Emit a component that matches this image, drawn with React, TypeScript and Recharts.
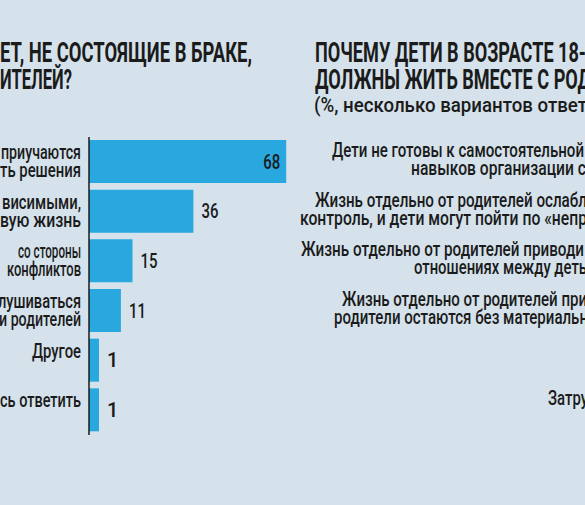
import React from 'react';
import { BarChart, Bar, XAxis, YAxis, LabelList } from 'recharts';

// ---------- data ----------
const leftCategories = [
  'Дети не приучаются самостоятельно принимать решения',
  'Дети остаются зависимыми, не начинают взрослую жизнь',
  'Нет контроля со стороны родителей, больше конфликтов',
  'Дети перестают прислушиваться к мнению родителей',
  'Другое',
  'Затрудняюсь ответить',
];
const leftLabelLines: string[][] = [
  ['приучаются', 'ть решения'],
  ['висимыми,', 'вую жизнь'],
  ['со стороны', 'конфликтов'],
  ['лушиваться', 'и родителей'],
  ['Другое'],
  ['сь ответить'],
];
const leftValues = [68, 36, 15, 11, 1, 1];

const rightCategories = [
  'Дети не готовы к самостоятельной жизни',
  'Жизнь отдельно от родителей ослабляет контроль',
  'Жизнь отдельно от родителей приводит к проблемам',
  'Жизнь отдельно от родителей приводит к тому, что родители остаются без помощи',
  'Другое',
  'Затрудняюсь ответить',
];
const rightLabelLines: string[][] = [
  ['Дети не готовы к самостоятельной', 'навыков организации с'],
  ['Жизнь отдельно от родителей ослабл', 'контроль, и дети могут пойти по «непр'],
  ['Жизнь отдельно от родителей приводи', 'отношениях между деть'],
  ['Жизнь отдельно от родителей при', 'родители остаются без материальн'],
  ['Другое'],
  ['Затру'],
];

const leftTitleLines = ['ЕТ, НЕ СОСТОЯЩИЕ В БРАКЕ,', 'ИТЕЛЕЙ?'];
const rightTitleLines = ['ПОЧЕМУ ДЕТИ В ВОЗРАСТЕ 18-', 'ДОЛЖНЫ ЖИТЬ ВМЕСТЕ С РОД'];
const rightSubtitle = '(%, несколько вариантов ответ';

// ---------- layout / style ----------
const BG = '#d5e2eb';
const BAR = '#29a8e0';
const INK = '#1b1b1b';
const FONT = 'Roboto, "DejaVu Sans", sans-serif';

const leftLabelWidths = [[80, 81], [79, 81], [63, 74], [83, 82], [49], [81]];
const rightLabelStartX = [[332, 411], [315, 300], [301, 414], [342, 334], [600], [548]];
const rightLabelWidths = [[252, 175], [272, 287], [283, 173], [245, 254], [50], [40]];
const RIGHT_CHART_LEFT = 300;

const leftData = leftCategories.map((c, i) => ({ cat: c, value: leftValues[i] }));
const rightData = rightCategories.map((c) => ({ cat: c }));

const LeftTick = (props: any) => {
  const { x, y, index } = props;
  const lines = leftLabelLines[index] || [];
  const widths = leftLabelWidths[index] || [];
  return (
    <g>
      {lines.map((t, j) => (
        <text
          key={j}
          x={x}
          y={y - 3 + j * 18}
          textAnchor="end"
          fontFamily={FONT}
          fontWeight={500}
          fontSize={20}
          fill={INK}
          textLength={widths[j]}
          lengthAdjust="spacingAndGlyphs"
        >
          {t}
        </text>
      ))}
    </g>
  );
};

const RightTick = (props: any) => {
  const { y, index } = props;
  const lines = rightLabelLines[index] || [];
  return (
    <g>
      {lines.map((t, j) => (
        <text
          key={j}
          x={rightLabelStartX[index][j] - RIGHT_CHART_LEFT}
          y={y - 3 + j * 18}
          textAnchor="start"
          fontFamily={FONT}
          fontWeight={500}
          fontSize={20}
          fill={INK}
          textLength={rightLabelWidths[index][j]}
          lengthAdjust="spacingAndGlyphs"
        >
          {t}
        </text>
      ))}
    </g>
  );
};

const ValueLabel = (props: any) => {
  const { x, y, width, height, value } = props;
  const inside = width > 150;
  const s = String(value);
  return (
    <text
      x={inside ? x + width - 6 : x + width + 8}
      y={y + height / 2 + 7}
      textAnchor={inside ? 'end' : 'start'}
      fontFamily={FONT}
      fontWeight={500}
      fontSize={20}
      fill={INK}
      {...(s.length > 1 ? { textLength: 17, lengthAdjust: 'spacingAndGlyphs' } : {})}
    >
      {s}
    </text>
  );
};

export default function App() {
  return (
    <div
      style={{
        position: 'fixed',
        left: 0,
        top: 0,
        width: 585,
        height: 505,
        overflow: 'hidden',
        background: BG,
      }}
    >
      <div style={{ position: 'absolute', left: 0, top: 0 }}>
        <BarChart
          width={300}
          height={505}
          data={leftData}
          layout="vertical"
          margin={{ top: 137, right: 8, bottom: 70, left: 0 }}
        >
          <XAxis type="number" domain={[0, 70]} hide />
          <Bar dataKey="value" fill={BAR} barSize={43} minPointSize={10} isAnimationActive={false}>
            <LabelList dataKey="value" content={ValueLabel} />
          </Bar>
          <YAxis
            type="category"
            dataKey="cat"
            width={89}
            tickLine={false}
            tickSize={0}
            tickMargin={8}
            axisLine={{ stroke: INK, strokeWidth: 1.5 }}
            tick={LeftTick}
            interval={0}
          />
        </BarChart>
      </div>
      <div style={{ position: 'absolute', left: RIGHT_CHART_LEFT, top: 0 }}>
        <BarChart
          width={420}
          height={505}
          data={rightData}
          layout="vertical"
          margin={{ top: 135, right: 0, bottom: 72, left: 0 }}
        >
          <XAxis type="number" domain={[0, 100]} hide />
          <YAxis
            type="category"
            dataKey="cat"
            width={320}
            tickLine={false}
            tickSize={0}
            axisLine={false}
            tick={RightTick}
            interval={0}
          />
        </BarChart>
      </div>
      <svg
        width={585}
        height={505}
        style={{ position: 'absolute', left: 0, top: 0, pointerEvents: 'none' }}
      >
        {leftTitleLines.map((t, i) => (
          <text
            key={'l' + i}
            x={0}
            y={62 + i * 27}
            fontFamily={FONT}
            fontWeight={700}
            fontSize={27}
            fill={INK}
            textLength={i === 0 ? 252 : 72}
            lengthAdjust="spacingAndGlyphs"
          >
            {t}
          </text>
        ))}
        {rightTitleLines.map((t, i) => (
          <text
            key={'r' + i}
            x={315}
            y={62 + i * 27}
            fontFamily={FONT}
            fontWeight={700}
            fontSize={27}
            fill={INK}
            textLength={i === 0 ? 271 : 276}
            lengthAdjust="spacingAndGlyphs"
          >
            {t}
          </text>
        ))}
        <text
          x={314}
          y={112}
          fontFamily={FONT}
          fontWeight={500}
          fontSize={21}
          fill={INK}
          textLength={273}
          lengthAdjust="spacingAndGlyphs"
        >
          {rightSubtitle}
        </text>
      </svg>
    </div>
  );
}
